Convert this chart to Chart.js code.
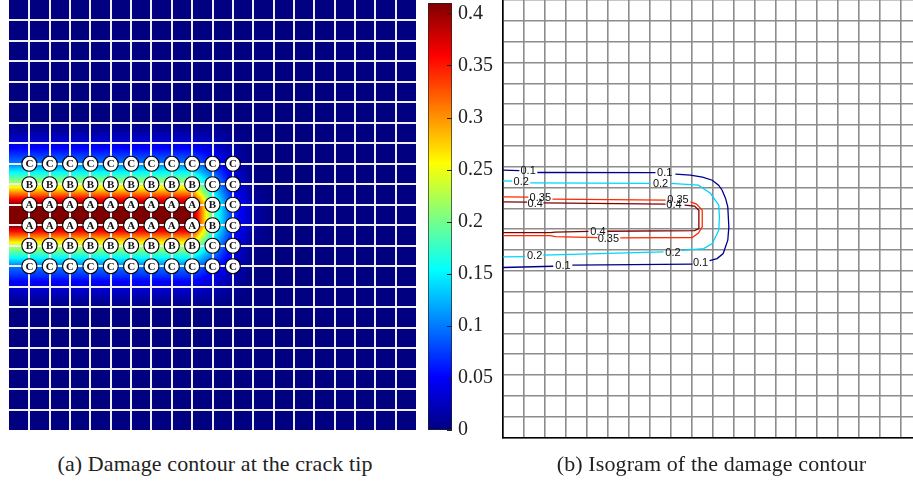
<!DOCTYPE html>
<html lang="en">
<head>
  <meta charset="UTF-8">
  <title>Damage contour at the crack tip</title>
  <script src="https://cdn.jsdelivr.net/npm/chart.js"></script>
  <style>
    html, body { margin: 0; padding: 0; overflow: hidden; background: #fff; }
    #page { position: relative; width: 913px; height: 484px; overflow: hidden; }
    canvas { position: absolute; }
    #heat { left: 9px; top: 0; }
    #bar { left: 420px; top: 0; }
    #iso { left: 502px; top: 0; }
    .caption {
      position: absolute; top: 451px; text-align: center; white-space: nowrap;
      font-family: "Liberation Serif", serif; font-size: 22px; letter-spacing: 0.1px; color: #222;
    }
    #capA { left: 0; width: 430px; }
    #capB { left: 500px; width: 423px; }
  </style>
</head>
<body>
<div id="page">
  <canvas id="heat" width="407" height="430"></canvas>
  <canvas id="bar" width="90" height="444"></canvas>
  <canvas id="iso" width="420" height="439"></canvas>
  <div class="caption" id="capA">(a) Damage contour at the crack tip</div>
  <div class="caption" id="capB">(b) Isogram of the damage contour</div>
</div>
<script>
  // mesh: 20 x 21 elements, nodes at integer positions
  const meshCols = 20;
  const meshRows = 21;
  const damageMax = 0.41;

  // nodal damage along the rows near the crack (column 0..20)
  const rowA = [0.41, 0.41, 0.41, 0.41, 0.41, 0.41, 0.41, 0.41, 0.41, 0.41, 0.19, 0.07, 0.015, 0, 0, 0, 0, 0, 0, 0, 0];
  const rowB = [0.23, 0.23, 0.23, 0.23, 0.23, 0.23, 0.23, 0.23, 0.23, 0.23, 0.13, 0.045, 0.005, 0, 0, 0, 0, 0, 0, 0, 0];
  const rowC = [0.10, 0.10, 0.10, 0.10, 0.10, 0.10, 0.10, 0.10, 0.10, 0.10, 0.065, 0.03, 0, 0, 0, 0, 0, 0, 0, 0, 0];
  const rowD = [0.035, 0.035, 0.035, 0.035, 0.035, 0.035, 0.035, 0.035, 0.035, 0.035, 0.025, 0.01, 0, 0, 0, 0, 0, 0, 0, 0, 0];
  const fieldRowIndex = [7, 8, 9, 10, 11, 12, 13, 14];
  const fieldRowValues = [rowD, rowC, rowB, rowA, rowA, rowB, rowC, rowD];

  // labelled nodes
  const nodeColIndex = [1, 2, 3, 4, 5, 6, 7, 8, 9, 10, 11];
  const nodeRowIndex = [8, 9, 10, 11, 12, 13];
  const nodeLabelRows = ['CCCCCCCCCCC', 'BBBBBBBBBCC', 'AAAAAAAAABC', 'AAAAAAAAABC', 'BBBBBBBBBCC', 'CCCCCCCCCCC'];

  // colorbar ticks
  const barTickStep = 0.05;

  // isolines of panel (b), [column, row] with null = gap for the label
  const isoLevels = ['0.1', '0.2', '0.35', '0.4'];
  const isoColors = ['#00008f', '#00d4ff', '#ff2a00', '#800000'];
  const iso01 = [[0, 8.17], [0.78, 8.19], null, [1.64, 8.28], [7.28, 8.29], null, [8.23, 8.36], [8.95, 8.41],
    [9.52, 8.5], [9.99, 8.65], [10.29, 8.89], [10.46, 9.13], [10.62, 9.51], [10.73, 9.93], [10.78, 10.89],
    [10.73, 11.53], [10.51, 12.17], [10.22, 12.41], [9.86, 12.51], null, [9.04, 12.68], [3.31, 12.73], null,
    [2.40, 12.78], [0, 12.84]];
  const iso02 = [[0, 8.68], [0.44, 8.69], null, [1.30, 8.78], [7.03, 8.80], null, [7.99, 8.80], [9.33, 8.89],
    [9.9, 9.28], [10.30, 9.85], [10.33, 10.41], [10.30, 11.05], [9.99, 11.69], [9.58, 11.93], [8.71, 12.01],
    [8.52, 12.03], null, [7.66, 12.09], [1.92, 12.25], null, [1.06, 12.32], [0, 12.33]];
  const iso035 = [[0, 9.45], [1.21, 9.46], null, [2.36, 9.56], [7.76, 9.61], null, [8.95, 9.69], [9.24, 9.80],
    [9.51, 10.09], [9.51, 10.89], [9.33, 11.19], [9.03, 11.40], [5.60, 11.42], null, [4.51, 11.41],
    [2.50, 11.36], [2.26, 11.31], [0, 11.31]];
  const iso04 = [[0, 9.69], [1.15, 9.70], null, [1.93, 9.74], [7.76, 9.80], null, [8.67, 9.85], [9.14, 9.89],
    [9.35, 10.09], [9.35, 10.97], [9.14, 11.07], [4.98, 11.10], null, [4.08, 11.11], [2.50, 11.14],
    [2.26, 11.17], [0, 11.17]];
  const isoLabelX = [1.2, 7.72, 2.86, 9.43, 0.87, 7.52, 1.51, 8.11, 1.78, 8.35, 5.03, 1.54, 8.16, 4.53];
  const isoLabelY = [8.21, 8.31, 12.75, 12.63, 8.74, 8.81, 12.27, 12.15, 9.49, 9.58, 11.46, 9.77, 9.86, 11.14];
  const isoLabelText = ['0.1', '0.1', '0.1', '0.1', '0.2', '0.2', '0.2', '0.2', '0.35', '0.35', '0.35', '0.4', '0.4', '0.4'];

  function jet(t) {
    t = Math.max(0, Math.min(1, t));
    const f = v => Math.round(255 * Math.max(0, Math.min(1, 1.5 - Math.abs(4 * t - v))));
    return [f(3), f(2), f(1)];
  }

  // nodal table used by the shading
  const nodal = [];
  for (let j = 0; j <= meshRows; j++) {
    const k = fieldRowIndex.indexOf(j);
    nodal.push(k >= 0 ? fieldRowValues[k] : new Array(meshCols + 1).fill(0));
  }

  function nodalValue(gx, gy) {
    const i0 = Math.max(0, Math.min(meshCols - 1, Math.floor(gx)));
    const j0 = Math.max(0, Math.min(meshRows - 1, Math.floor(gy)));
    const fx = Math.max(0, Math.min(1, gx - i0));
    const fy = Math.max(0, Math.min(1, gy - j0));
    const a = nodal[j0][i0], b = nodal[j0][i0 + 1];
    const c = nodal[j0 + 1][i0], d = nodal[j0 + 1][i0 + 1];
    return (a * (1 - fx) + b * fx) * (1 - fy) + (c * (1 - fx) + d * fx) * fy;
  }

  const heatFieldPlugin = {
    id: 'heatField',
    beforeDraw(chart) {
      const { ctx, chartArea: a, scales: { x, y } } = chart;
      const w = Math.round(a.right - a.left), h = Math.round(a.bottom - a.top);
      const img = ctx.createImageData(w, h);
      for (let py = 0; py < h; py++) {
        const gy = y.getValueForPixel(a.top + py + 0.5);
        for (let px = 0; px < w; px++) {
          const gx = x.getValueForPixel(a.left + px + 0.5);
          const c = jet(nodalValue(gx, gy) / damageMax);
          const k = (py * w + px) * 4;
          img.data[k] = c[0];
          img.data[k + 1] = c[1];
          img.data[k + 2] = c[2];
          img.data[k + 3] = 255;
        }
      }
      ctx.putImageData(img, Math.round(a.left), Math.round(a.top));
    }
  };

  const nodeLetterPlugin = {
    id: 'nodeLetters',
    afterDatasetsDraw(chart) {
      const { ctx } = chart;
      const meta = chart.getDatasetMeta(0);
      ctx.save();
      ctx.font = 'bold 11px "Liberation Serif"';
      ctx.fillStyle = '#111';
      ctx.textAlign = 'center';
      ctx.textBaseline = 'middle';
      meta.data.forEach((pt, n) => {
        ctx.fillText(chart.data.datasets[0].data[n].label, pt.x, pt.y + 0.5);
      });
      ctx.restore();
    }
  };

  function edgeless(max) {
    return c => (c.tick && (c.tick.value === 0 || c.tick.value === max)) ? 'rgba(0,0,0,0)' : '#eeeef6';
  }

  const markerPoints = [];
  nodeRowIndex.forEach((r, a) => {
    nodeColIndex.forEach((col, b) => {
      markerPoints.push({ x: col, y: r, label: nodeLabelRows[a][b] });
    });
  });

  new Chart(document.getElementById('heat'), {
    type: 'scatter',
    data: {
      datasets: [{
        data: markerPoints,
        pointRadius: 7.5,
        pointHoverRadius: 7.5,
        pointBackgroundColor: '#fff',
        pointBorderColor: '#000',
        pointBorderWidth: 1.1
      }]
    },
    options: {
      responsive: false,
      animation: false,
      events: [],
      layout: { padding: 0, autoPadding: false },
      plugins: { legend: { display: false }, tooltip: { enabled: false } },
      scales: {
        x: {
          type: 'linear', min: 0, max: meshCols,
          ticks: { display: false, stepSize: 1, maxTicksLimit: 100 },
          grid: { color: edgeless(meshCols), lineWidth: 2, drawTicks: false },
          border: { display: false }
        },
        y: {
          type: 'linear', reverse: true, min: 0, max: meshRows,
          ticks: { display: false, stepSize: 1, maxTicksLimit: 100 },
          grid: { color: edgeless(meshRows), lineWidth: 2, drawTicks: false },
          border: { display: false }
        }
      }
    },
    plugins: [heatFieldPlugin, nodeLetterPlugin]
  });

  // colorbar
  const barTickPlugin = {
    id: 'barTicks',
    afterDraw(chart) {
      const { ctx, chartArea: a, scales: { y } } = chart;
      ctx.save();
      ctx.strokeStyle = '#222';
      ctx.lineWidth = 1;
      y.ticks.forEach(t => {
        const py = Math.round(y.getPixelForValue(t.value)) + 0.5;
        ctx.beginPath();
        ctx.moveTo(a.right - 5, py);
        ctx.lineTo(a.right, py);
        ctx.stroke();
      });
      ctx.restore();
    }
  };

  new Chart(document.getElementById('bar'), {
    type: 'bar',
    data: {
      labels: [''],
      datasets: [{
        data: [damageMax],
        backgroundColor(context) {
          const chart = context.chart;
          if (!chart.chartArea) return '#000080';
          const y = chart.scales.y;
          const g = chart.ctx.createLinearGradient(0, y.getPixelForValue(0), 0, y.getPixelForValue(damageMax));
          for (let k = 0; k <= 40; k++) {
            g.addColorStop(k / 40, 'rgb(' + jet(k / 40).join(',') + ')');
          }
          return g;
        },
        borderColor: '#222',
        borderWidth: 1,
        borderSkipped: false,
        barPercentage: 1,
        categoryPercentage: 1
      }]
    },
    options: {
      responsive: false,
      animation: false,
      events: [],
      layout: { padding: { left: 8, top: 3, right: 0, bottom: 14 }, autoPadding: false },
      plugins: { legend: { display: false }, tooltip: { enabled: false } },
      scales: {
        x: { display: false },
        y: {
          position: 'right', min: 0, max: damageMax,
          ticks: {
            stepSize: barTickStep, includeBounds: false, padding: 6, color: '#222',
            font: { family: '"Liberation Serif"', size: 20 },
            callback: v => String(+v.toFixed(2))
          },
          grid: { display: false, drawTicks: false },
          border: { display: false },
          afterFit(s) { s.width = 58; s.paddingTop = 0; s.paddingBottom = 0; }
        }
      }
    },
    plugins: [barTickPlugin]
  });

  // isogram
  const toPoints = arr => arr.map(p => p ? { x: p[0], y: p[1] } : { x: null, y: null });
  const isoLines = [iso01, iso02, iso035, iso04];

  const isoLabelPlugin = {
    id: 'isoLabels',
    afterDatasetsDraw(chart) {
      const { ctx, scales: { x, y } } = chart;
      ctx.save();
      ctx.font = '11px "Liberation Sans"';
      ctx.fillStyle = '#111';
      ctx.textAlign = 'center';
      ctx.textBaseline = 'middle';
      isoLabelText.forEach((t, n) => {
        ctx.fillText(t, x.getPixelForValue(isoLabelX[n]), y.getPixelForValue(isoLabelY[n]));
      });
      ctx.restore();
    }
  };

  new Chart(document.getElementById('iso'), {
    type: 'scatter',
    data: {
      datasets: isoLines.map((line, n) => ({
        label: isoLevels[n],
        data: toPoints(line),
        showLine: true,
        spanGaps: false,
        borderColor: isoColors[n],
        borderWidth: 1.3,
        pointRadius: 0,
        tension: 0
      }))
    },
    options: {
      responsive: false,
      animation: false,
      events: [],
      layout: { padding: { left: 1, top: 0, right: 0, bottom: 1.5 }, autoPadding: false },
      plugins: { legend: { display: false }, tooltip: { enabled: false } },
      scales: {
        x: {
          type: 'linear', min: 0, max: meshCols,
          ticks: { display: false, stepSize: 1, maxTicksLimit: 100 },
          grid: { color: '#8c8c8c', lineWidth: 1.6, drawTicks: false },
          border: { display: true, color: '#000', width: 1.6 }
        },
        y: {
          type: 'linear', reverse: true, min: 0, max: meshRows,
          ticks: { display: false, stepSize: 1, maxTicksLimit: 100 },
          grid: { color: '#8c8c8c', lineWidth: 1.6, drawTicks: false },
          border: { display: true, color: '#000', width: 1.6 }
        }
      }
    },
    plugins: [isoLabelPlugin]
  });
</script>
</body>
</html>
